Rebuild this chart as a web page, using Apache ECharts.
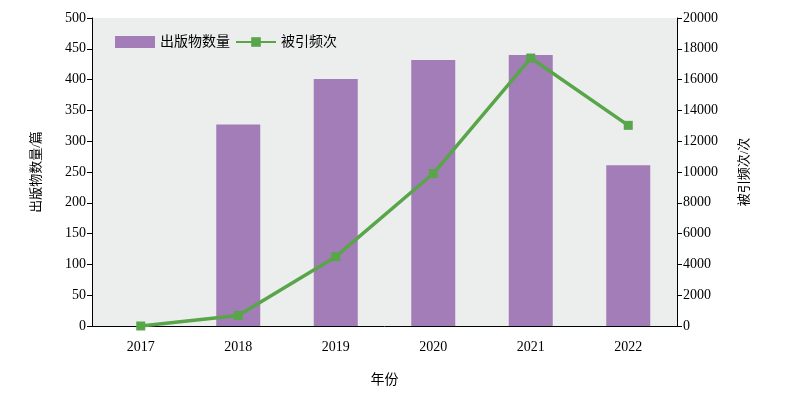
<!DOCTYPE html>
<html><head><meta charset="utf-8">
<script src="https://cdn.jsdelivr.net/npm/echarts@6/dist/echarts.min.js"></script>
<style>html,body{margin:0;padding:0;background:#fff}#c{width:788px;height:395px}</style>
</head><body><div id="c"></div>
<script>
const categories = ['2017','2018','2019','2020','2021','2022'];
const publications = [0, 327, 401, 432, 440, 261];
const citations = [0, 680, 4500, 9900, 17400, 13030];
const leftTicks = {min:0, max:500, interval:50};
const rightTicks = {min:0, max:20000, interval:2000};

const serif = '"Liberation Serif", "Noto Sans CJK SC", serif';
const chart = echarts.init(document.getElementById('c'));
const axisText = {color:'#000', fontFamily: serif, fontSize: 14};
chart.setOption({
  animation:false,
  grid:{left:92, right:111, top:18, bottom:69, show:true, backgroundColor:'#eceeed', borderWidth:0, containLabel:false},
  legend:{
    left:110, top:30, itemWidth:40, itemHeight:12, itemGap:5,
    textStyle:{fontFamily: serif, fontSize:14, color:'#000'},
    data:[{name:'出版物数量', icon:'rect'}, {name:'被引频次'}]
  },
  xAxis:{
    type:'category', data:categories,
    name:'年份', nameLocation:'middle', nameGap:47,
    nameTextStyle:{fontFamily:serif, fontSize:14, color:'#000'},
    axisLine:{lineStyle:{color:'#000', width:1}},
    axisTick:{show:false},
    axisLabel:Object.assign({margin:14}, axisText)
  },
  yAxis:[{
    type:'value', min:leftTicks.min, max:leftTicks.max, interval:leftTicks.interval,
    name:'出版物数量/篇', nameLocation:'middle', nameGap:49, nameRotate:90,
    nameTextStyle:{fontFamily:serif, fontSize:13, color:'#000'},
    axisLine:{show:true, lineStyle:{color:'#000'}},
    axisTick:{show:true, length:5, lineStyle:{color:'#000'}},
    axisLabel:Object.assign({margin:6}, axisText),
    splitLine:{show:false}
  },{
    type:'value', min:rightTicks.min, max:rightTicks.max, interval:rightTicks.interval,
    name:'被引频次/次', nameLocation:'middle', nameGap:61, nameRotate:90,
    nameTextStyle:{fontFamily:serif, fontSize:13, color:'#000'},
    axisLine:{show:true, lineStyle:{color:'#000'}},
    axisTick:{show:true, length:5, lineStyle:{color:'#000'}},
    axisLabel:Object.assign({margin:6, formatter: v => String(v)}, axisText),
    splitLine:{show:false}
  }],
  series:[{
    name:'出版物数量', type:'bar', data:publications, barWidth:44,
    itemStyle:{color:'#a27db7'}
  },{
    name:'被引频次', type:'line', yAxisIndex:1, data:citations,
    symbol:'rect', symbolSize:9,
    lineStyle:{color:'#58a54a', width:3.5},
    itemStyle:{color:'#58a54a'}
  }]
});
</script></body></html>
